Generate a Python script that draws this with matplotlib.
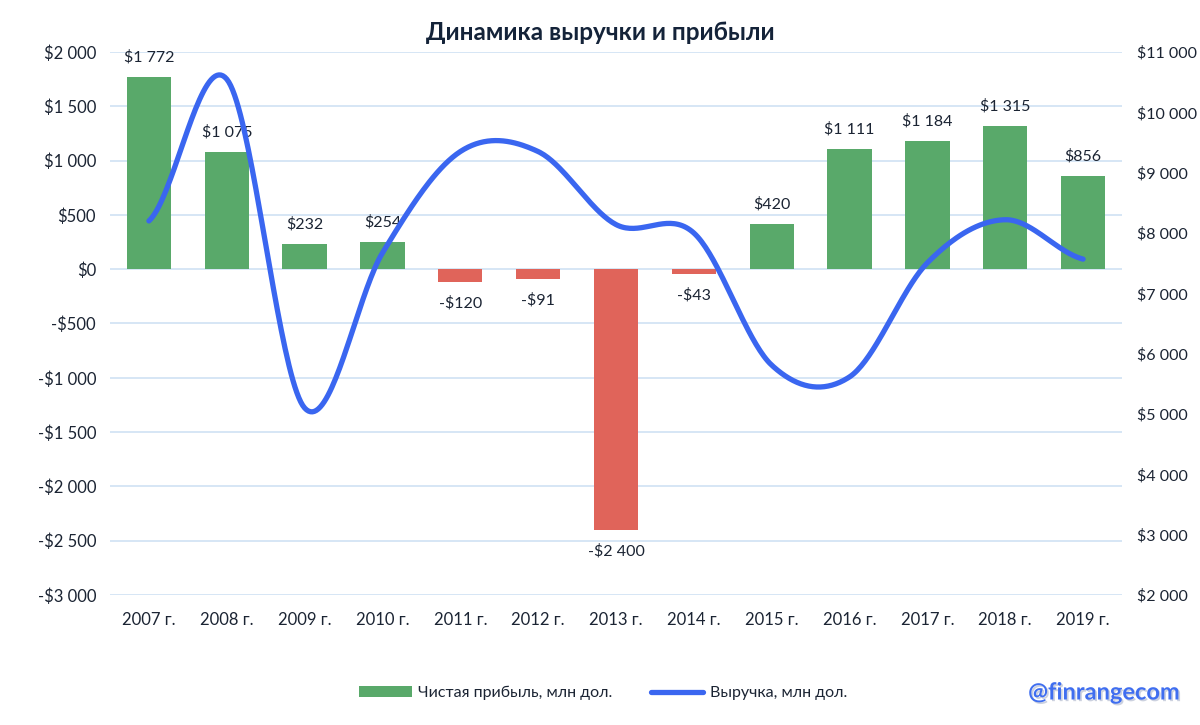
import matplotlib
matplotlib.use("Agg")
import matplotlib.pyplot as plt
import matplotlib.patheffects as pe
from matplotlib.ticker import FuncFormatter, MultipleLocator
from matplotlib.patches import Patch
from matplotlib.lines import Line2D
import numpy as np

plt.rcParams['font.family'] = ['Lato', 'DejaVu Sans']

years = ['2007 г.', '2008 г.', '2009 г.', '2010 г.', '2011 г.', '2012 г.', '2013 г.',
         '2014 г.', '2015 г.', '2016 г.', '2017 г.', '2018 г.', '2019 г.']
profit = [1772, 1075, 232, 254, -120, -91, -2400, -43, 420, 1111, 1184, 1315, 856]
revenue = [8200, 10550, 5100, 7670, 9350, 9350, 8140, 8000, 5810, 5615, 7506, 8220, 7567]

GREEN = '#59a96a'
RED = '#e0645a'
BLUE = '#3a66f0'
TEXT = '#1b2433'
GRID = '#cfe1f3'


def money(v, pos=None):
    s = '{:,.0f}'.format(abs(v)).replace(',', ' ')
    return ('-$' if v < 0 else '$') + s


def smooth(y, steps=40):
    # catmull-rom, roughly what excel does for a "smoothed line"
    y = np.asarray(y, dtype=float)
    n = len(y)
    xs, ys = [], []
    for i in range(n - 1):
        p0 = y[i - 1] if i > 0 else y[i]
        p1, p2 = y[i], y[i + 1]
        p3 = y[i + 2] if i + 2 < n else y[i + 1]
        m1 = (p2 - p0) / 2
        m2 = (p3 - p1) / 2
        t = np.linspace(0, 1, steps, endpoint=(i == n - 2))
        h00 = 2 * t**3 - 3 * t**2 + 1
        h10 = t**3 - 2 * t**2 + t
        h01 = -2 * t**3 + 3 * t**2
        h11 = t**3 - t**2
        xs.append(i + t)
        ys.append(h00 * p1 + h10 * m1 + h01 * p2 + h11 * m2)
    return np.concatenate(xs), np.concatenate(ys)


fig = plt.figure(figsize=(12, 7.25), dpi=100)
ax = fig.add_axes([110 / 1200, 1 - 595 / 725, 1012 / 1200, 543 / 725])
ax2 = ax.twinx()

x = np.arange(len(years))
colors = [GREEN if v >= 0 else RED for v in profit]
ax.bar(x, profit, width=0.57, color=colors, zorder=2)

for xi, v in zip(x, profit):
    if v >= 0:
        ax.annotate(money(v), (xi, v), xytext=(0, 9), textcoords='offset points',
                    ha='center', va='bottom', fontsize=11.5, color=TEXT)
    else:
        ax.annotate(money(v), (xi, v), xytext=(0, -10), textcoords='offset points',
                    ha='center', va='top', fontsize=11.5, color=TEXT)

ax.set_xlim(-0.5, len(years) - 0.5)
ax.set_ylim(-3000, 2000)
ax.yaxis.set_major_locator(MultipleLocator(500))
ax.yaxis.set_major_formatter(FuncFormatter(money))
ax.grid(axis='y', color=GRID, linewidth=1.2, zorder=0)
ax.set_axisbelow(True)
ax.set_xticks(x)
ax.set_xticklabels(years)

sx, sy = smooth(revenue)
ax2.plot(sx, sy, color=BLUE, linewidth=3.8, solid_capstyle='round', zorder=3)
ax2.set_ylim(2000, 11000)
ax2.yaxis.set_major_locator(MultipleLocator(1000))
ax2.yaxis.set_major_formatter(FuncFormatter(money))

for a in (ax, ax2):
    for s in a.spines.values():
        s.set_visible(False)
    a.tick_params(length=0, labelsize=12, colors=TEXT)
ax.tick_params(axis='y', pad=10)
ax.tick_params(axis='x', pad=12)
ax2.tick_params(axis='y', pad=11, labelsize=11.5)

fig.text(0.5, 1 - 32 / 725, 'Динамика выручки и прибыли', ha='center', va='center',
         fontsize=17.5, fontweight='bold', color='#142339')

handles = [Patch(facecolor=GREEN, edgecolor='none'),
           Line2D([0], [0], color=BLUE, linewidth=3.8, solid_capstyle='round')]
fig.legend(handles, ['Чистая прибыль, млн дол.', 'Выручка, млн дол.'],
           loc='center', bbox_to_anchor=(603 / 1200, 1 - 693 / 725), ncol=2,
           frameon=False, fontsize=11.5, handlelength=3.3, handleheight=0.6,
           handletextpad=0.4, columnspacing=2.4, labelcolor=TEXT)

fig.text(1180 / 1200, 1 - 692 / 725, '@finrangecom', ha='right', va='center',
         fontsize=17, fontweight='bold', color='#3f6ef0',
         path_effects=[pe.withSimplePatchShadow(offset=(1.2, -1.2), shadow_rgbFace='#9aa5c0', alpha=0.5)])

fig.savefig('out.png', dpi=100)
